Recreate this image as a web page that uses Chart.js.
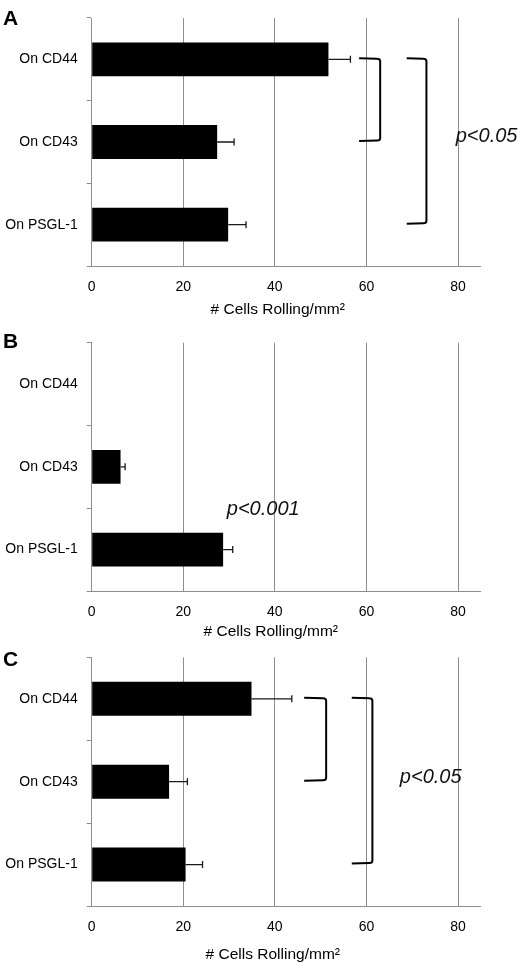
<!DOCTYPE html>
<html>
<head>
<meta charset="utf-8">
<script src="https://cdn.jsdelivr.net/npm/chart.js@4.4.1/dist/chart.umd.min.js"></script>
<style>
  html, body { margin: 0; padding: 0; background: #fff; }
  .panel { position: absolute; left: 0; width: 520px; }
</style>
</head>
<body>
<div class="panel" style="top:0;height:320px"><canvas id="chartA"></canvas></div>
<div class="panel" style="top:320px;height:320px"><canvas id="chartB"></canvas></div>
<div class="panel" style="top:640px;height:328px"><canvas id="chartC"></canvas></div>
<script>
const categories = ["On CD44", "On CD43", "On PSGL-1"];
const xTickValues = [0, 20, 40, 60, 80];
const xMax = 84.8;

const meanA = [51.7, 27.4, 29.8];
const errA = [4.8, 3.7, 3.9];
const meanB = [0, 6.3, 28.7];
const errB = [0, 1.0, 2.1];
const meanC = [34.9, 16.9, 20.5];
const errC = [8.8, 4.0, 3.7];

const axisTitle = "# Cells Rolling/mm\u00B2";
const FONT = "'Liberation Sans', Arial, Helvetica, sans-serif";
const GRID = "#8e8e8e";

// draws error bars, significance brackets, p-values, panel letter and axis title
const panelExtras = {
  id: "panelExtras",
  afterDatasetsDraw(chart) {
    const o = chart.options.plugins.panelExtras;
    const ctx = chart.ctx;
    const xs = chart.scales.x;
    const ys = chart.scales.y;
    const meta = chart.getDatasetMeta(0);
    const values = chart.data.datasets[0].data;

    ctx.save();
    ctx.strokeStyle = "#1a1a1a";
    ctx.lineWidth = 1.3;
    o.errors.forEach((e, i) => {
      if (!e) return;
      const y = meta.data[i].y;
      const x0 = xs.getPixelForValue(values[i]);
      const x1 = xs.getPixelForValue(values[i] + e);
      ctx.beginPath();
      ctx.moveTo(x0, y);
      ctx.lineTo(x1, y);
      ctx.moveTo(x1, y - 3.5);
      ctx.lineTo(x1, y + 3.5);
      ctx.stroke();
    });

    ctx.strokeStyle = "#000";
    ctx.lineWidth = 2;
    ctx.lineJoin = "round";
    (o.brackets || []).forEach((b) => {
      const xa = xs.getPixelForValue(b.x0);
      const xb = xs.getPixelForValue(b.x1);
      const yt = ys.getPixelForValue(b.from) - 1;
      const yb = ys.getPixelForValue(b.to) - 1;
      const r = 3;
      ctx.beginPath();
      ctx.moveTo(xa, yt);
      ctx.lineTo(xb - r, yt + 0.5);
      ctx.quadraticCurveTo(xb, yt + 0.5, xb, yt + r);
      ctx.lineTo(xb, yb - r);
      ctx.quadraticCurveTo(xb, yb - 0.5, xb - r, yb - 0.5);
      ctx.lineTo(xa, yb);
      ctx.stroke();
    });

    if (o.pText) {
      ctx.fillStyle = "#111";
      ctx.font = "italic 20px " + FONT;
      ctx.textAlign = "left";
      ctx.textBaseline = "alphabetic";
      ctx.fillText(o.pText.text, xs.getPixelForValue(o.pText.x),
        ys.getPixelForValue(o.pText.yIdx) + o.pText.dy);
    }

    ctx.fillStyle = "#000";
    ctx.font = "bold 21px " + FONT;
    ctx.fillText(o.letter, 3, o.letterY);

    ctx.font = "15.5px " + FONT;
    ctx.textAlign = "center";
    ctx.textBaseline = "middle";
    ctx.fillText(axisTitle, o.titleX, o.titleY);
    ctx.restore();
  }
};

function makeChart(id, means, errs, cfg) {
  const ctx = document.getElementById(id).getContext("2d");
  return new Chart(ctx, {
    type: "bar",
    data: {
      labels: categories,
      datasets: [{
        data: means,
        backgroundColor: "#000",
        borderWidth: 0,
        barPercentage: 0.41,
        categoryPercentage: 1
      }]
    },
    options: {
      indexAxis: "y",
      responsive: true,
      maintainAspectRatio: false,
      animation: false,
      layout: { padding: { top: cfg.padTop, right: 40, left: 0, bottom: 0 } },
      scales: {
        x: {
          min: 0,
          max: xMax,
          afterBuildTicks: (axis) => {
            axis.ticks = xTickValues.map((v) => ({ value: v }));
          },
          afterFit: (scale) => { scale.height = cfg.xHeight; },
          grid: { color: GRID, lineWidth: 1, drawTicks: false },
          border: { color: GRID, width: 1 },
          ticks: { color: "#000", padding: 12.5, font: { family: FONT, size: 14 } }
        },
        y: {
          afterFit: (scale) => { scale.width = 91.7; },
          grid: { offset: true, drawOnChartArea: false, tickLength: 5, color: GRID },
          border: { color: GRID, width: 1 },
          ticks: { color: "#000", padding: 9, font: { family: FONT, size: 14 } }
        }
      },
      plugins: {
        legend: { display: false },
        tooltip: { enabled: false },
        panelExtras: cfg.extras
      }
    },
    plugins: [panelExtras]
  });
}

makeChart("chartA", meanA, errA, {
  padTop: 18,
  xHeight: 54,
  extras: {
    errors: errA,
    letter: "A", letterY: 25,
    titleX: 277.7, titleY: 310,
    brackets: [
      { x0: 58.4, x1: 63.0, from: 0, to: 1 },
      { x0: 68.8, x1: 73.1, from: 0, to: 2 }
    ],
    pText: { text: "p<0.05", x: 79.5, yIdx: 1, dy: 0 }
  }
});

makeChart("chartB", meanB, errB, {
  padTop: 22.7,
  xHeight: 49,
  extras: {
    errors: errB,
    letter: "B", letterY: 28.3,
    titleX: 270.8, titleY: 311.7,
    brackets: [],
    pText: { text: "p<0.001", x: 29.5, yIdx: 1.5, dy: 6.5 }
  }
});

makeChart("chartC", meanC, errC, {
  padTop: 17.3,
  xHeight: 62,
  extras: {
    errors: errC,
    letter: "C", letterY: 25.5,
    titleX: 272.8, titleY: 315,
    brackets: [
      { x0: 46.4, x1: 51.2, from: 0, to: 1 },
      { x0: 56.8, x1: 61.3, from: 0, to: 2 }
    ],
    pText: { text: "p<0.05", x: 67.3, yIdx: 1, dy: 1.5 }
  }
});
</script>
</body>
</html>
